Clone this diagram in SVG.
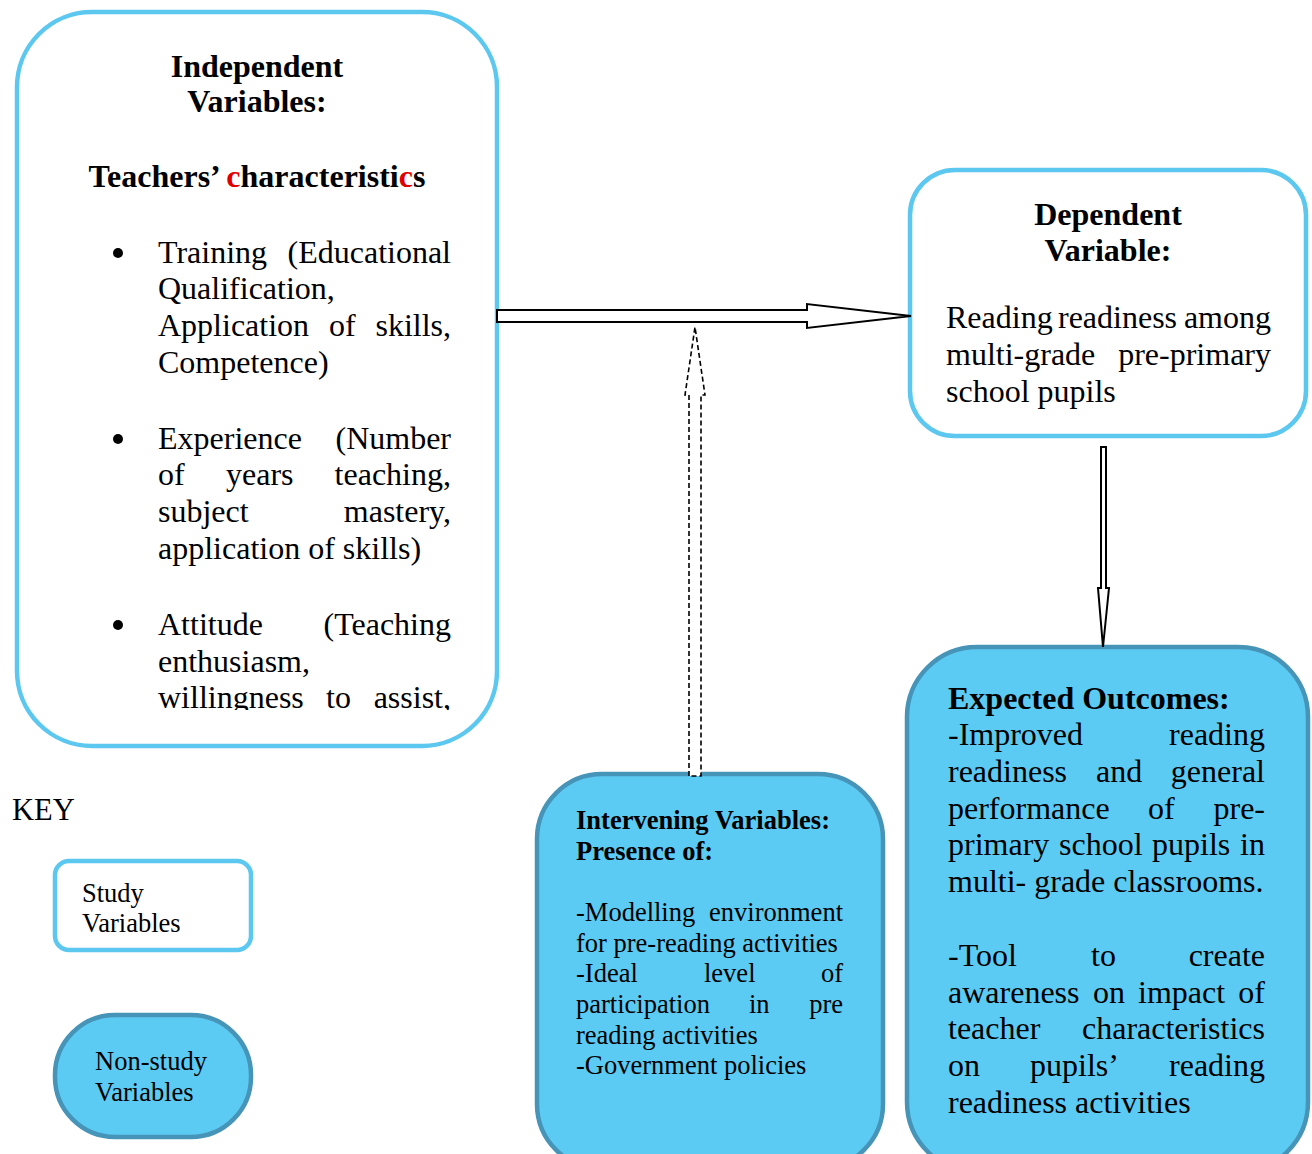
<svg xmlns="http://www.w3.org/2000/svg" width="1312" height="1154" viewBox="0 0 1312 1154">
<style>
text{font-family:"Liberation Serif","Times New Roman",serif;fill:#000}
.t32{font-size:32px}
.t26{font-size:26.5px}
.b{font-weight:bold}
.c{text-anchor:middle}
.e{text-anchor:end}
.study{fill:#fff;stroke:#5CC8F0;stroke-width:4.5}
.non{fill:#5CCBF3;stroke:#4694B7;stroke-width:4.5}
.arrow{fill:#fff;stroke:#000;stroke-width:2}
.dash{fill:#fff;stroke:#000;stroke-width:1.6;stroke-dasharray:5 3}
.red{fill:#E00000}
</style>
<defs>
<clipPath id="clipInd"><rect x="20" y="15" width="474" height="695"/></clipPath>
</defs>
<rect width="1312" height="1154" fill="#fff"/>

<g id="independent">
<rect class="study" x="17" y="12" width="480" height="734" rx="75"/>
<text class="t32 b c" x="257" y="77">Independent</text>
<text class="t32 b c" x="257" y="112">Variables:</text>
<text class="t32 b c" x="257" y="187">Teachers’ <tspan class="red">c</tspan>haracteristi<tspan class="red">c</tspan>s</text>
<circle cx="118" cy="253" r="5"/>
<circle cx="118" cy="439" r="5"/>
<circle cx="118" cy="625" r="5"/>
<g clip-path="url(#clipInd)" class="t32">
<text x="158" y="263">Training</text><text class="e" x="451" y="263">(Educational</text>
<text x="158" y="299">Qualification,</text>
<text x="158" y="336">Application</text><text x="329" y="336">of</text><text class="e" x="451" y="336">skills,</text>
<text x="158" y="373">Competence)</text>
<text x="158" y="449">Experience</text><text class="e" x="451" y="449">(Number</text>
<text x="158" y="485">of</text><text x="226" y="485">years</text><text class="e" x="451" y="485">teaching,</text>
<text x="158" y="522">subject</text><text class="e" x="451" y="522">mastery,</text>
<text x="158" y="559">application of skills)</text>
<text x="158" y="635">Attitude</text><text class="e" x="451" y="635">(Teaching</text>
<text x="158" y="672">enthusiasm,</text>
<text x="158" y="708">willingness</text><text x="326" y="708">to</text><text class="e" x="451" y="708">assist,</text>
</g>
</g>

<g id="dependent">
<rect class="study" x="910" y="170" width="396" height="266" rx="45"/>
<text class="t32 b c" x="1108" y="225">Dependent</text>
<text class="t32 b c" x="1108" y="261">Variable:</text>
<text class="t32" x="946" y="328">Reading</text><text class="t32" x="1058" y="328">readiness</text><text class="t32 e" x="1271" y="328">among</text>
<text class="t32" x="946" y="365">multi-grade</text><text class="t32 e" x="1271" y="365">pre-primary</text>
<text class="t32" x="946" y="402">school pupils</text>
</g>

<g id="intervening">
<rect class="non" x="537" y="774" width="346" height="395" rx="65"/>
<text class="t26 b" x="576" y="829">Intervening Variables:</text>
<text class="t26 b" x="576" y="860">Presence of:</text>
<text class="t26" x="576" y="921">-Modelling</text><text class="t26 e" x="843" y="921">environment</text>
<text class="t26" x="576" y="952">for pre-reading activities</text>
<text class="t26" x="576" y="982">-Ideal</text><text class="t26" x="704" y="982">level</text><text class="t26 e" x="843" y="982">of</text>
<text class="t26" x="576" y="1013">participation</text><text class="t26" x="749" y="1013">in</text><text class="t26 e" x="843" y="1013">pre</text>
<text class="t26" x="576" y="1044">reading activities</text>
<text class="t26" x="576" y="1074">-Government policies</text>
</g>

<g id="outcomes">
<rect class="non" x="907" y="647" width="401" height="525" rx="70"/>
<text class="t32 b" x="948" y="709">Expected Outcomes:</text>
<text class="t32" x="948" y="745">-Improved</text><text class="t32 e" x="1265" y="745">reading</text>
<text class="t32" x="948" y="782">readiness</text><text class="t32" x="1096" y="782">and</text><text class="t32 e" x="1265" y="782">general</text>
<text class="t32" x="948" y="819">performance</text><text class="t32" x="1148" y="819">of</text><text class="t32 e" x="1265" y="819">pre-</text>
<text class="t32" x="948" y="855">primary</text><text class="t32" x="1059" y="855">school</text><text class="t32" x="1152" y="855">pupils</text><text class="t32 e" x="1265" y="855">in</text>
<text class="t32" x="948" y="892">multi- grade classrooms.</text>
<text class="t32" x="948" y="966">-Tool</text><text class="t32" x="1091" y="966">to</text><text class="t32 e" x="1265" y="966">create</text>
<text class="t32" x="948" y="1003">awareness</text><text class="t32" x="1093" y="1003">on</text><text class="t32" x="1138" y="1003">impact</text><text class="t32 e" x="1265" y="1003">of</text>
<text class="t32" x="948" y="1039">teacher</text><text class="t32 e" x="1265" y="1039">characteristics</text>
<text class="t32" x="948" y="1076">on</text><text class="t32" x="1030" y="1076">pupils’</text><text class="t32 e" x="1265" y="1076">reading</text>
<text class="t32" x="948" y="1113">readiness activities</text>
</g>

<g id="key">
<text class="t32" x="12" y="820" style="font-size:30.5px">KEY</text>
</g>
<g id="key-study">
<rect class="study" x="55" y="861" width="196" height="89" rx="14"/>
<text class="t26" x="82" y="902">Study</text>
<text class="t26" x="82" y="932">Variables</text>
</g>
<g id="key-nonstudy">
<rect class="non" x="55" y="1015" width="196" height="122" rx="60"/>
<text class="t26" x="95" y="1070">Non-study</text>
<text class="t26" x="95" y="1101">Variables</text>
</g>

<g id="connectors">
<polygon class="arrow" points="497,310 807,310 807,304 911,316 807,328 807,322 497,322"/>
<polygon class="dash" points="689,776 689,395 685,395 695,327 705,395 701,395 701,776"/>
<polygon class="arrow" stroke-width="1.6" points="1101,447 1106,447 1106,588 1109,588 1103,647 1098,588 1101,588"/>
</g>
</svg>
